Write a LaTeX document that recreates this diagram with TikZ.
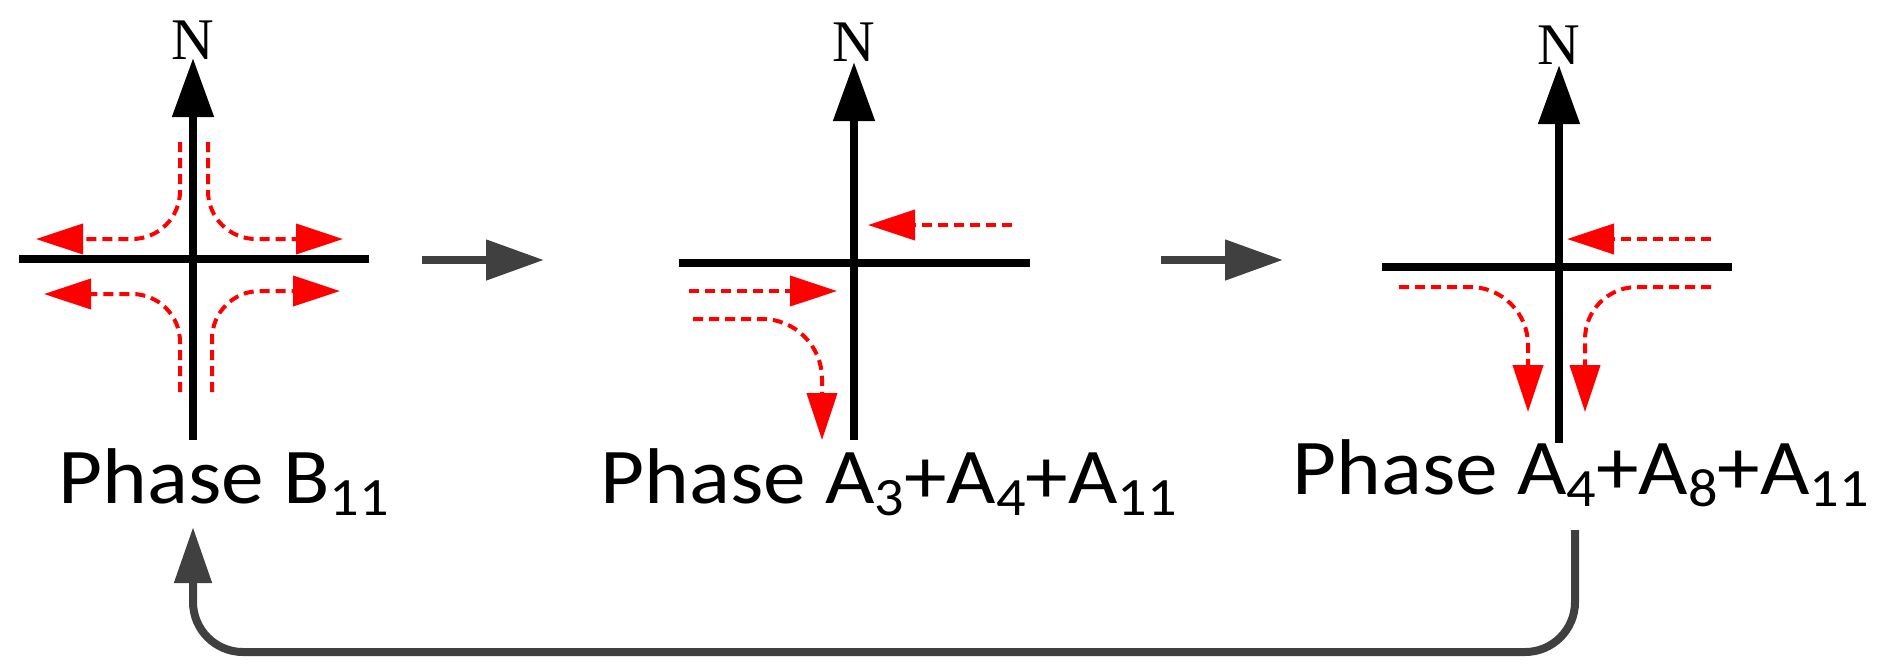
\documentclass[tikz,border=0pt]{standalone}
\usepackage{fontspec}
\setmainfont{Carlito}[FakeStretch=1.08]
\newfontfamily\northfont{Liberation Serif}
\usetikzlibrary{arrows.meta}
\definecolor{flowgray}{HTML}{404040}
\newcommand{\lane}[1]{\raisebox{-6pt}{\fontsize{27}{30}\selectfont #1}}

\begin{document}
\begin{tikzpicture}
[x=0.5pt,y=-0.5pt%
,road/.style={draw=black,%
              line width=4pt}%
,compass/.style={road,%
                 -{Triangle[length=29.5pt,width=20pt]}}%
,northlabel/.style={font=\northfont\fontsize{29.5}{34}\selectfont,%
                    inner sep=0pt,%
                    anchor=base}%
,move/.style={draw=red,%
              line width=2pt,%
              dash pattern=on 5pt off 3pt,%
              rounded corners=24pt,%
              -{Triangle[length=23.5pt,width=15pt]}}%
,step arrow/.style={draw=flowgray,%
                    line width=4pt,%
                    -{Triangle[length=29pt,width=19.5pt]}}%
,back arrow/.style={draw=flowgray,%
                    line width=4pt,%
                    rounded corners=25pt,%
                    -{Triangle[length=28pt,width=18pt]}}%
,phase/.style={font=\fontsize{39.5}{47}\selectfont,%
               inner sep=0pt,%
               anchor=base west}]
\useasboundingbox (0,0) rectangle (1877,671);
% phase B11
\draw[road] (19,259) -- (369,259);
\draw[compass] (193,440) -- (193,58);
\node[northlabel] (n1) at (193,59) {N};
\draw[move] (180,142) -- (180,239) -- (36,239);
\draw[move] (208,142) -- (208,239) -- (343,239);
\draw[move] (180,392) -- (180,294) -- (44,294);
\draw[move] (212,392) -- (212,291) -- (340,291);
\node[phase] (lab1) at (58,503) {Phase B\lane{11}};
% phase A3+A4+A11
\draw[road] (679,263) -- (1030,263);
\draw[compass] (854,440) -- (854,62);
\node[northlabel] (n2) at (854,61) {N};
\draw[move] (1012,225) -- (868,225);
\draw[move] (689,291) -- (837,291);
\draw[move,rounded corners=30pt] (693,319) -- (822,319) -- (822,440);
\node[phase] (lab2) at (600,503) {Phase A\lane{3}+A\lane{4}+A\lane{11}};
% phase A4+A8+A11
\draw[road] (1382,267) -- (1732,267);
\draw[compass] (1559,443) -- (1559,65);
\node[northlabel] (n3) at (1559,64) {N};
\draw[move] (1711,239) -- (1567,239);
\draw[move,rounded corners=29pt] (1399,287) -- (1528,287) -- (1528,412);
\draw[move,rounded corners=26pt] (1711,287) -- (1585,287) -- (1585,412);
\node[phase] (lab3) at (1292,494) {Phase A\lane{4}+A\lane{8}+A\lane{11}};
% sequence
\coordinate (s1) at (422,260);
\coordinate (e1) at (544,260);
\coordinate (s2) at (1161,260);
\coordinate (e2) at (1283,260);
\coordinate (out3) at (1575,530);
\coordinate (in1) at (193,527);
\draw[step arrow] (s1) -- (e1);
\draw[step arrow] (s2) -- (e2);
\draw[back arrow] (out3) -- (out3 |- 0,652) -- (in1 |- 0,652) -- (in1);
\end{tikzpicture}
\end{document}
